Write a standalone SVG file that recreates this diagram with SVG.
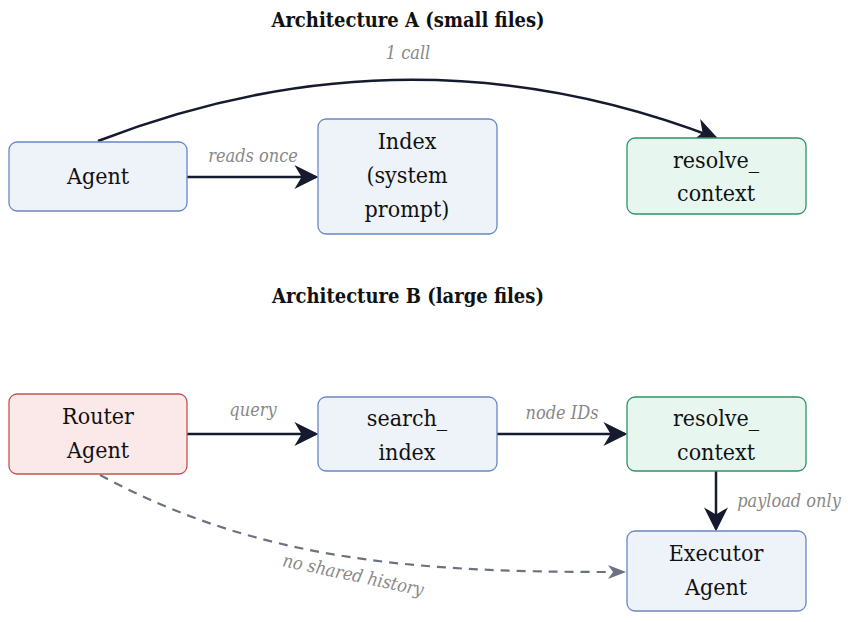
<svg xmlns="http://www.w3.org/2000/svg" width="848" height="622" viewBox="0 0 848 622">
<style>
text{font-family:"DejaVu Serif Condensed","DejaVu Serif";font-stretch:condensed}
.title{font-weight:bold;font-size:20px;fill:#111;text-anchor:middle}
.nt{font-size:23px;fill:#111;text-anchor:middle}
.lb{font-style:italic;font-size:18px;fill:#888;text-anchor:middle}
.blue{fill:#eef3fa;stroke:#6b86c4;stroke-width:1.3}
.green{fill:#e8f6f0;stroke:#2e9466;stroke-width:1.3}
.red{fill:#fbe9e9;stroke:#c25456;stroke-width:1.3}
.e{fill:none;stroke:#151a2e;stroke-width:2.5}
.d{fill:none;stroke:#6c7280;stroke-width:2.2;stroke-dasharray:9 7}
</style>
<defs>
<marker id="ah2" viewBox="0 0 10 10" refX="9" refY="5" markerWidth="24" markerHeight="24" markerUnits="userSpaceOnUse" orient="auto"><path d="M0,0 L10,5 L0,10 L3,5 z" fill="#151a2e"/></marker>
</defs>
<rect width="848" height="622" fill="#fff"/>
<text class="title" x="408" y="27">Architecture A (small files)</text>
<text class="title" x="408" y="303">Architecture B (large files)</text>
<g id="connectors">
<path class="e" d="M98,141 Q410,20 716,138" marker-end="url(#ah2)"/>
<text class="lb" x="408" y="59">1 call</text>
<path class="e" d="M187,177 L316,177" marker-end="url(#ah2)"/>
<text class="lb" x="253" y="162">reads once</text>
<path class="e" d="M187,434 L316,434" marker-end="url(#ah2)"/>
<text class="lb" x="253" y="416">query</text>
<path class="e" d="M497,434 L625,434" marker-end="url(#ah2)"/>
<text class="lb" x="562" y="419">node IDs</text>
<path class="e" d="M716,471 L716,529" marker-end="url(#ah2)"/>
<text class="lb" x="789" y="507">payload only</text>
<path class="d" d="M100,475 C260,562 420,572 610,572"/>
<path d="M608,565 L626,572 L608,579 L613,572 z" fill="#6c7280"/>
<text class="lb" transform="translate(352,581) rotate(12)" x="0" y="0">no shared history</text>
</g>
<g id="agentA"><rect class="blue" x="9" y="142" width="178" height="69" rx="8"/><text class="nt" x="98" y="184">Agent</text></g>
<g id="indexA"><rect class="blue" x="318" y="119" width="179" height="115" rx="8"/><text class="nt" x="407" y="149">Index</text><text class="nt" x="407" y="183">(system</text><text class="nt" x="407" y="217">prompt)</text></g>
<g id="resolveA"><rect class="green" x="627" y="138" width="179" height="76" rx="8"/><text class="nt" x="716" y="168">resolve_</text><text class="nt" x="716" y="201">context</text></g>
<g id="router"><rect class="red" x="9" y="394" width="178" height="80" rx="8"/><text class="nt" x="98" y="424">Router</text><text class="nt" x="98" y="458">Agent</text></g>
<g id="search"><rect class="blue" x="318" y="397" width="179" height="74" rx="8"/><text class="nt" x="407" y="426">search_</text><text class="nt" x="407" y="460">index</text></g>
<g id="resolveB"><rect class="green" x="627" y="397" width="179" height="74" rx="8"/><text class="nt" x="716" y="426">resolve_</text><text class="nt" x="716" y="460">context</text></g>
<g id="executor"><rect class="blue" x="627" y="531" width="179" height="80" rx="8"/><text class="nt" x="716" y="561">Executor</text><text class="nt" x="716" y="595">Agent</text></g>
</svg>
